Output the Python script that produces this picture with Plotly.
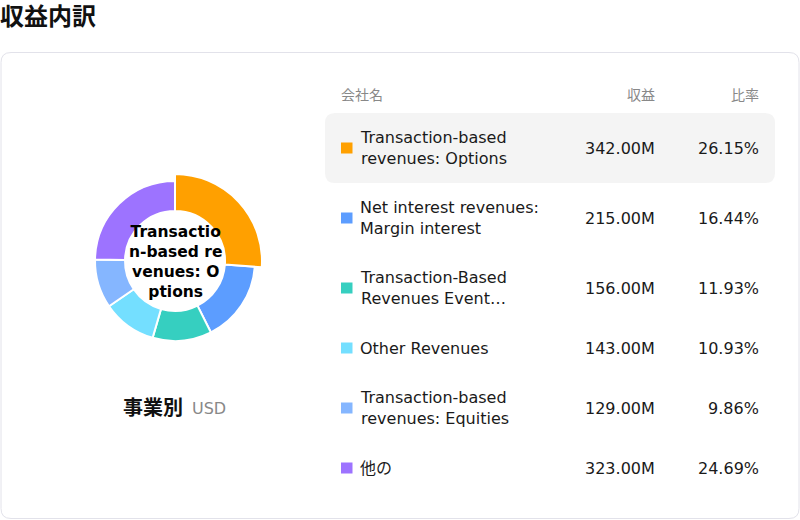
import plotly.graph_objects as go

# data
names = [
    "Transaction-based<br>revenues: Options",
    "Net interest revenues:<br>Margin interest",
    "Transaction-Based<br>Revenues Event…",
    "Other Revenues",
    "Transaction-based<br>revenues: Equities",
    "他の",
]
revenues = [342.0, 215.0, 156.0, 143.0, 129.0, 323.0]  # millions USD
colors = ["#FFA000", "#5C9DFF", "#36CFC0", "#74DFFF", "#85B6FF", "#9D73FF"]
center_lines = ["Transactio", "n-based re", "venues: O", "ptions"]
headers = ["会社名", "収益", "比率"]
title = "収益内訳"
subtitle = "事業別"
unit = "USD"

FONT = "DejaVu Sans, Noto Sans CJK JP, sans-serif"
W, H = 800, 520

total = sum(revenues)
shares = [v / total * 100 for v in revenues]


def rounded_rect(x0, y0, x1, y1, r):
    """SVG path of a rounded rectangle, in pixel coords (y downwards)."""
    return (
        f"M{x0 + r},{y0} L{x1 - r},{y0} Q{x1},{y0} {x1},{y0 + r} "
        f"L{x1},{y1 - r} Q{x1},{y1} {x1 - r},{y1} L{x0 + r},{y1} "
        f"Q{x0},{y1} {x0},{y1 - r} L{x0},{y0 + r} Q{x0},{y0} {x0 + r},{y0} Z"
    )


def dom(cx, cy, r):
    return dict(x=[(cx - r) / W, (cx + r) / W], y=[1 - (cy + r) / H, 1 - (cy - r) / H])


fig = go.Figure()

# donut: base ring plus the highlighted (enlarged) first slice on top
cx, cy = 175, 261
fig.add_trace(go.Pie(
    values=revenues, sort=False, direction="clockwise", rotation=0,
    hole=50 / 80, domain=dom(cx, cy, 80),
    marker=dict(colors=colors, line=dict(color="white", width=2)),
    textinfo="none", hoverinfo="skip", showlegend=False,
))
fig.add_trace(go.Pie(
    values=revenues, sort=False, direction="clockwise", rotation=0,
    hole=50 / 87, domain=dom(cx, cy, 87),
    marker=dict(
        colors=[colors[0]] + ["rgba(0,0,0,0)"] * (len(revenues) - 1),
        line=dict(color="white", width=[2] + [0] * (len(revenues) - 1)),
    ),
    textinfo="none", hoverinfo="skip", showlegend=False,
))

shapes = [
    dict(type="path", path=rounded_rect(1, 52.5, 799, 518.5, 10), xref="x", yref="y",
         line=dict(color="#E2E2EA", width=1), fillcolor="white", layer="below"),
    dict(type="path", path=rounded_rect(325, 113, 775, 183, 10), xref="x", yref="y",
         line=dict(width=0), fillcolor="#F4F4F4", layer="below"),
]

annotations = [
    dict(x=0, y=17, xshift=-2, text=f"<b>{title}</b>", xanchor="left",
         font=dict(size=24, color="#111")),
    dict(x=185, y=408, text=f"<b>{subtitle}</b>", xanchor="right",
         font=dict(size=20, color="#111")),
    dict(x=190, y=408, text=unit, xanchor="left",
         font=dict(size=16, color="#888")),
    dict(x=339, y=95, text=headers[0], xanchor="left", font=dict(size=14, color="#888")),
    dict(x=657, y=95, text=headers[1], xanchor="right", font=dict(size=14, color="#888")),
    dict(x=761, y=95, text=headers[2], xanchor="right", font=dict(size=14, color="#888")),
    dict(x=cx, y=cy + 1, text="<br>".join(f"<b>{s}</b>" for s in center_lines),
         font=dict(size=15.5, color="#000")),
]

# table rows: 50px per single-line row, 70px per two-line row
top = 113
for name, val, pct, col in zip(names, revenues, shares, colors):
    h = 70 if "<br>" in name else 50
    ym = top + h / 2
    shapes.append(dict(type="rect", x0=341, x1=352.5, y0=ym - 5.5, y1=ym + 5.5,
                       xref="x", yref="y", fillcolor=col, line=dict(width=0)))
    annotations += [
        dict(x=358, y=ym, text=name, xanchor="left", align="left",
             font=dict(size=16, color="#1a1a1a")),
        dict(x=657, y=ym, text=f"{val:.2f}M", xanchor="right",
             font=dict(size=16, color="#1a1a1a")),
        dict(x=761, y=ym, text=f"{pct:.2f}%", xanchor="right",
             font=dict(size=16, color="#1a1a1a")),
    ]
    top += h

for a in annotations:
    a.update(xref="x", yref="y", showarrow=False, yanchor="middle")

fig.update_layout(
    width=W, height=H, margin=dict(l=0, r=0, t=0, b=0),
    paper_bgcolor="white", plot_bgcolor="rgba(0,0,0,0)",
    font=dict(family=FONT),
    xaxis=dict(range=[0, W], visible=False, fixedrange=True),
    yaxis=dict(range=[H, 0], visible=False, fixedrange=True),
    shapes=shapes, annotations=annotations, showlegend=False,
)

# the page's default body margin would push the figure 8px in
fig.write_html("out.html", config={"displayModeBar": False},
               post_script="document.body.style.margin = '0';")
